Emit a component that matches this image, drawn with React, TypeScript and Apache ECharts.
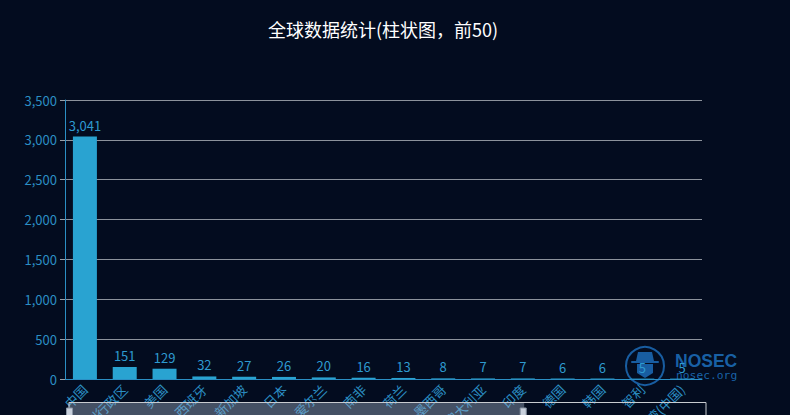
import React, { useEffect, useRef } from "react";
import * as echarts from "echarts";

const categories = [
  "中国", "香港特别行政区", "美国", "西班牙", "新加坡", "日本", "爱尔兰", "南非",
  "荷兰", "墨西哥", "澳大利亚", "印度", "德国", "韩国", "智利", "台湾(中国)",
  "加拿大", "英国", "法国", "俄罗斯", "巴西", "泰国",
];
const values = [3041, 151, 129, 32, 27, 26, 20, 16, 13, 8, 7, 7, 6, 6, 5, 5, 4, 4, 3, 3, 2, 2];
const titleText = "全球数据统计(柱状图，前50)";

export default function App() {
  const ref = useRef<HTMLDivElement>(null);
  useEffect(() => {
    if (!ref.current) return;
    const chart = echarts.init(ref.current, undefined, { renderer: "svg" });
    const blue = "#2b8fc4";
    const logo = "#1c6cb8";
    chart.setOption({
      animation: false,
      backgroundColor: "#030c1f",
      textStyle: { fontFamily: "'Noto Sans CJK SC', 'Noto Sans', sans-serif" },
      title: {
        text: titleText,
        left: 263,
        top: 15,
        textStyle: { color: "#ffffff", fontSize: 18, fontWeight: "normal", fontFamily: "'Noto Sans CJK SC', sans-serif" },
      },
      grid: { left: 65, right: 88, top: 100, bottom: 36, containLabel: false, outerBoundsMode: "none" },
      xAxis: {
        type: "category",
        data: categories,
        axisLine: { lineStyle: { color: blue } },
        axisTick: { alignWithLabel: true, lineStyle: { color: blue } },
        axisLabel: { color: blue, rotate: 45, interval: 0, fontSize: 13 },
      },
      yAxis: {
        type: "value",
        min: 0,
        max: 3500,
        interval: 500,
        axisLine: { show: true, lineStyle: { color: blue } },
        axisTick: { show: true, lineStyle: { color: "#9aa0a8" } },
        axisLabel: { color: blue, fontSize: 13 },
        splitLine: { lineStyle: { color: "#8d939c" } },
      },
      dataZoom: [
        {
          type: "slider",
          xAxisIndex: 0,
          startValue: 0,
          endValue: 15,
          left: 66,
          right: 86,
          top: 402,
          height: 24,
          borderColor: "#c8cbd0",
          fillerColor: "rgba(167,183,204,0.4)",
          backgroundColor: "rgba(0,0,0,0)",
          showDetail: false,
          moveHandleSize: 0,
          handleIcon: "path://M0,0 L10,0 L10,20 L0,20 Z",
          handleSize: "50%",
          handleStyle: { color: "#c8d0dc", borderColor: "#8a95a5" },
          dataBackground: { lineStyle: { opacity: 0 }, areaStyle: { opacity: 0 } },
          selectedDataBackground: { lineStyle: { opacity: 0 }, areaStyle: { opacity: 0 } },
        },
      ],
      series: [
        {
          type: "bar",
          data: values,
          barWidth: 24,
          itemStyle: { color: "#29a3d1" },
          label: {
            show: true,
            position: "top",
            color: "#2e9ad0",
            fontSize: 13,
            formatter: (p: any) => Number(p.value).toLocaleString("en-US"),
          },
        },
      ],
      graphic: [
        {
          type: "group",
          z: 100,
          children: [
            { type: "circle", shape: { cx: 645, cy: 366, r: 19 }, style: { fill: "none", stroke: logo, lineWidth: 2, opacity: 0.85 } },
            { type: "polygon", shape: { points: [[638, 352], [652, 352], [654, 361], [636, 361]] }, style: { fill: logo, opacity: 0.85 } },
            { type: "rect", shape: { x: 631, y: 361, width: 28, height: 2, r: 1 }, style: { fill: logo, opacity: 0.85 } },
            { type: "polygon", shape: { points: [[637, 364], [653, 364], [653, 373], [645, 378], [637, 373]] }, style: { fill: logo, opacity: 0.85 } },
            { type: "text", x: 675, y: 352, style: { text: "NOSEC", fill: logo, fontSize: 17.5, fontWeight: "bold", fontFamily: "'Liberation Sans', Arial, sans-serif", opacity: 0.9 } },
            { type: "text", x: 676, y: 370, style: { text: "nosec.org", fill: logo, fontSize: 11.3, fontFamily: "'DejaVu Sans Mono', monospace", opacity: 0.9 } },
          ],
        },
      ],
    });
    return () => chart.dispose();
  }, []);
  return <div ref={ref} style={{ position: "absolute", left: 0, top: 0, width: 790, height: 415 }} />;
}
